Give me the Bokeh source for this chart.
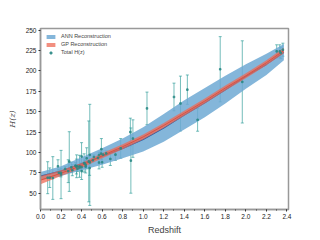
from bokeh.plotting import figure
from bokeh.models import ColumnDataSource, Whisker, TeeHead, Legend, LegendItem, NumeralTickFormatter, FixedTicker, Range1d
from bokeh.embed import file_html
from bokeh.resources import INLINE

# Observational H(z) data
z_obs = [0.07, 0.09, 0.12, 0.17, 0.179, 0.199, 0.2, 0.27, 0.28, 0.352, 0.3802, 0.4, 0.4004, 0.4247,
         0.4497, 0.47, 0.4783, 0.48, 0.593, 0.68, 0.781, 0.875, 0.88, 0.9, 1.037, 1.3, 1.363, 1.43,
         1.53, 1.75, 1.965,
         0.24, 0.30, 0.31, 0.34, 0.35, 0.36, 0.38, 0.40, 0.43, 0.44, 0.44, 0.48, 0.51, 0.52, 0.56,
         0.57, 0.57, 0.59, 0.60, 0.61, 0.64, 0.73, 2.30, 2.33, 2.34, 2.36]
H_obs = [69, 69, 68.6, 83, 75, 75, 72.9, 77, 88.8, 83, 83, 95, 77, 87.1,
         92.8, 89, 80.9, 97, 104, 92, 105, 125, 90, 117, 154, 168, 160, 177,
         140, 202, 186.5,
         79.69, 81.7, 78.17, 83.8, 82.7, 79.93, 81.5, 82.04, 86.45, 82.6, 84.81, 87.79, 90.4, 94.35, 93.34,
         87.6, 96.8, 98.48, 87.9, 97.3, 98.82, 97.3, 224, 224, 222, 226]
sig_obs = [19.6, 12, 26.2, 8, 4, 5, 29.6, 14, 36.6, 14, 13.5, 17, 10.2, 11.2,
           12.9, 49.6, 9, 62, 13, 8, 12, 17, 40, 23, 20, 17, 33.6, 18,
           14, 40, 50.4,
           2.99, 6.22, 6.74, 3.66, 9.1, 3.39, 1.9, 2.03, 3.97, 7.8, 1.83, 2.03, 1.9, 2.64, 2.3,
           7.8, 3.4, 3.18, 6.1, 2.1, 2.99, 7.0, 8, 8, 7, 8]

# Reconstructions
z_grid = [0.0, 0.2, 0.4, 0.6, 0.8, 1.0, 1.2, 1.4, 1.6, 1.8, 2.0, 2.2, 2.37]
gp_mean = [66, 74.5, 84, 96, 107, 119, 133, 148, 163, 179, 194, 210, 225]
gp_err = [5, 3.5, 3, 3, 3, 3, 3, 3, 3, 3, 3, 3, 3.5]
ann_mean = [71, 77, 86, 95, 105, 116, 130, 146, 161, 177, 193, 208, 223]
ann_err = [5, 6, 8, 10, 12, 15, 17, 18, 18, 17, 15, 13, 10]

x_ticks = [0.0, 0.2, 0.4, 0.6, 0.8, 1.0, 1.2, 1.4, 1.6, 1.8, 2.0, 2.2, 2.4]
y_ticks = [50, 75, 100, 125, 150, 175, 200, 225, 250]

p = figure(width=312, height=238, output_backend="svg", toolbar_location=None,
           x_range=Range1d(0, 2.415), y_range=Range1d(30, 252))
p.min_border_left = 40
p.min_border_top = 28
p.min_border_right = 24
p.min_border_bottom = 29
p.grid.visible = False
p.outline_line_color = "#999999"
p.outline_line_width = 1.5

ann_lo = [m - e for m, e in zip(ann_mean, ann_err)]
ann_hi = [m + e for m, e in zip(ann_mean, ann_err)]
gp_lo = [m - e for m, e in zip(gp_mean, gp_err)]
gp_hi = [m + e for m, e in zip(gp_mean, gp_err)]
cs = ColumnDataSource(dict(z=z_grid, ann=ann_mean, ann_lo=ann_lo, ann_hi=ann_hi,
                           gp=gp_mean, gp_lo=gp_lo, gp_hi=gp_hi))

r_ann = p.varea(x="z", y1="ann_lo", y2="ann_hi", source=cs, fill_color="#6fa9d4", fill_alpha=0.85)
p.line(x="z", y="ann", source=cs, line_color="#1f5ea8", line_width=1.2)
r_gp = p.varea(x="z", y1="gp_lo", y2="gp_hi", source=cs, fill_color="#ee6a55", fill_alpha=0.75)
p.line(x="z", y="gp", source=cs, line_color="#e0503c", line_width=1)

lo = [h - s for h, s in zip(H_obs, sig_obs)]
hi = [h + s for h, s in zip(H_obs, sig_obs)]
ds = ColumnDataSource(dict(z=z_obs, H=H_obs, lo=lo, hi=hi))
wh = Whisker(base="z", lower="lo", upper="hi", source=ds, line_color="#2a9a96", line_alpha=0.65, line_width=1,
             upper_head=TeeHead(size=3, line_color="#2a9a96", line_alpha=0.65),
             lower_head=TeeHead(size=3, line_color="#2a9a96", line_alpha=0.65))
p.add_layout(wh)
r_pts = p.scatter(x="z", y="H", source=ds, size=1.6, color="#2a8a86", alpha=0.8, marker="square")

legend = Legend(items=[LegendItem(label="ANN Reconstruction", renderers=[r_ann]),
                       LegendItem(label="GP Reconstruction", renderers=[r_gp]),
                       LegendItem(label="Total H(z)", renderers=[r_pts])],
                location="top_left")
legend.label_text_font_size = "5.5px"
legend.label_text_font = "Liberation Sans"
legend.glyph_width = 11
legend.glyph_height = 5
legend.label_height = 5
legend.spacing = 2
legend.padding = 3
legend.margin = 2
legend.label_standoff = 5
legend.border_line_alpha = 0
p.add_layout(legend)

p.xaxis.ticker = FixedTicker(ticks=x_ticks, minor_ticks=[i / 10 for i in range(0, 25)])
p.yaxis.ticker = FixedTicker(ticks=y_ticks)
p.xaxis.formatter = NumeralTickFormatter(format="0.0")
for ax in (p.xaxis, p.yaxis):
    ax.axis_line_color = "#999999"
    ax.axis_line_width = 1.5
    ax.major_tick_line_color = "#333333"
    ax.minor_tick_line_color = "#333333"
    ax.major_tick_out = 2
    ax.major_tick_in = 0
    ax.minor_tick_out = 1
    ax.minor_tick_in = 0
    ax.major_label_text_font_size = "6.5px"
    ax.major_label_text_font = "Liberation Sans"
    ax.major_label_text_color = "#222222"
    ax.major_label_standoff = 2
p.yaxis.minor_tick_line_color = None
p.xaxis.axis_label = "Redshift"
p.xaxis.axis_label_text_font_size = "9px"
p.xaxis.axis_label_text_font = "Liberation Sans"
p.xaxis.axis_label_text_font_style = "normal"
p.xaxis.axis_label_standoff = 3
p.yaxis.axis_label = "H(z)"
p.yaxis.axis_label_text_font_size = "8px"
p.yaxis.axis_label_text_font = "DejaVu Serif"
p.yaxis.axis_label_text_font_style = "italic"
p.yaxis.axis_label_standoff = 6

open("out.html", "w").write(file_html(p, INLINE))
